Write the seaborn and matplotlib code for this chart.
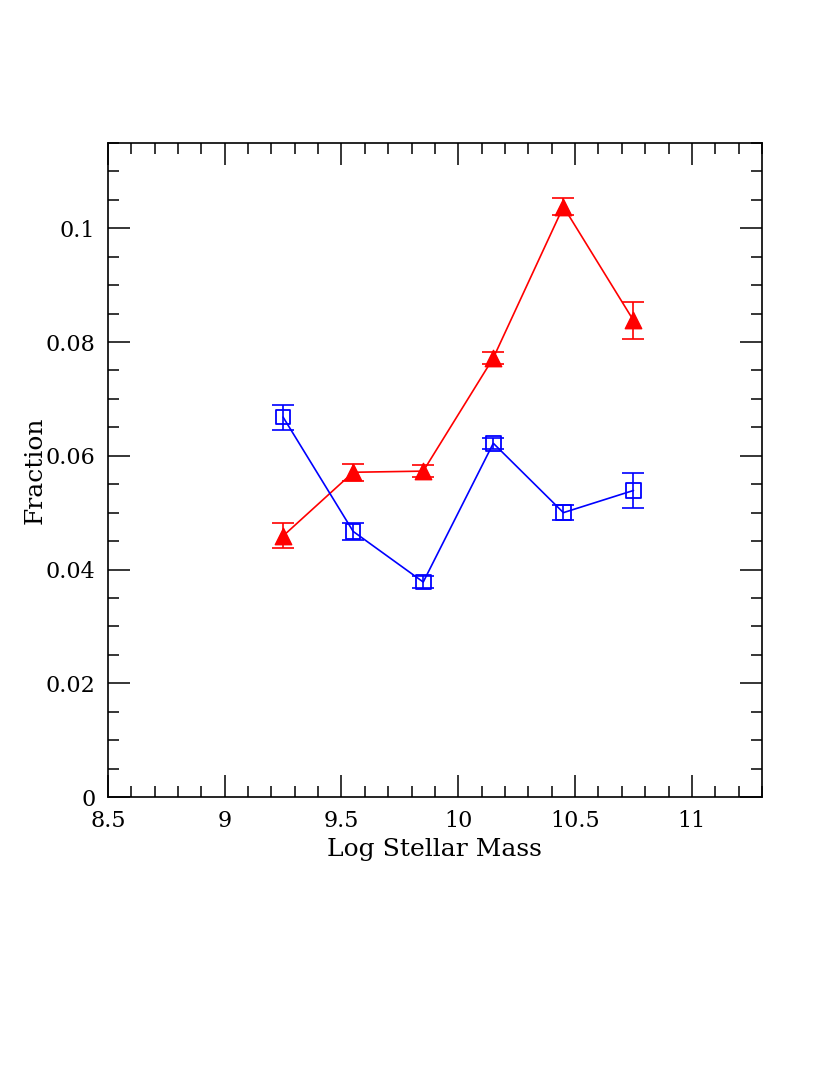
import pandas as pd
import matplotlib.pyplot as plt
import seaborn as sns
from matplotlib.ticker import MultipleLocator

# Data
mass = [9.25, 9.55, 9.85, 10.15, 10.45, 10.75]
red_frac = [0.0459, 0.0571, 0.0573, 0.0772, 0.1038, 0.0838]
red_err = [0.0022, 0.0015, 0.0010, 0.0010, 0.0015, 0.0032]
blue_frac = [0.0668, 0.0467, 0.0378, 0.0622, 0.0500, 0.0539]
blue_err = [0.0022, 0.0015, 0.0010, 0.0010, 0.0013, 0.0031]

x_ticks = [8.5, 9, 9.5, 10, 10.5, 11]
x_labels = ['8.5', '9', '9.5', '10', '10.5', '11']
y_ticks = [0, 0.02, 0.04, 0.06, 0.08, 0.1]
y_labels = ['0', '0.02', '0.04', '0.06', '0.08', '0.1']

df = pd.DataFrame({
    'mass': mass * 2,
    'frac': red_frac + blue_frac,
    'err': red_err + blue_err,
    'group': ['red'] * len(mass) + ['blue'] * len(mass),
})

sns.set_style('ticks')
plt.rcParams['font.family'] = ['DejaVu Serif']
plt.rcParams['text.color'] = 'black'
plt.rcParams['axes.labelcolor'] = 'black'

fig = plt.figure(figsize=(8.3, 10.75), dpi=100)
ax = fig.add_axes([0.130, 0.2586, 0.788, 0.6084])

colors = {'red': 'red', 'blue': 'blue'}
sns.lineplot(data=df, x='mass', y='frac', hue='group', palette=colors,
             legend=False, linewidth=1.2, ax=ax, estimator=None, sort=False)

for g, d in df.groupby('group'):
    ax.errorbar(d['mass'], d['frac'], yerr=d['err'], fmt='none',
                ecolor=colors[g], elinewidth=1.2, capsize=8, capthick=1.2, zorder=3)

red = df[df.group == 'red']
blue = df[df.group == 'blue']
ax.scatter(red['mass'], red['frac'], marker='^', s=140, color='red',
           edgecolor='red', zorder=4)
ax.scatter(blue['mass'], blue['frac'], marker='s', s=110, facecolor='none',
           edgecolor='blue', linewidth=1.3, zorder=4)

ax.set_xlim(8.5, 11.3)
ax.set_ylim(0, 0.115)
ax.set_xticks(x_ticks)
ax.set_xticklabels(x_labels)
ax.set_yticks(y_ticks)
ax.set_yticklabels(y_labels)
ax.xaxis.set_minor_locator(MultipleLocator(0.1))
ax.yaxis.set_minor_locator(MultipleLocator(0.005))
ax.tick_params(which='both', direction='in', top=True, right=True,
               labelsize=16, width=1.1, pad=9, color='black', labelcolor='black')
ax.tick_params(which='major', length=16)
ax.tick_params(which='minor', length=8)
for s in ax.spines.values():
    s.set_linewidth(1.2)
    s.set_color('black')

ax.set_xlabel('Log Stellar Mass', fontsize=18, labelpad=5)
ax.set_ylabel('Fraction', fontsize=18)
# the label sits partly over the tick labels in the original
ax.yaxis.set_label_coords(-0.093, 0.5)

fig.savefig('out.png', dpi=100)
